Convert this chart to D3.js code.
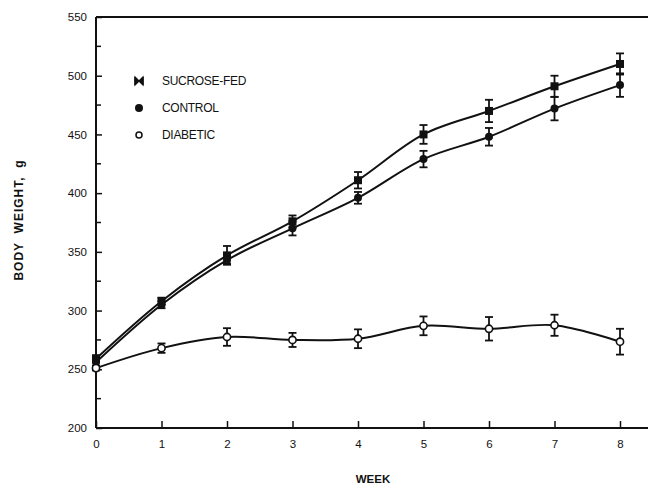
<!DOCTYPE html>
<html>
<head>
<meta charset="utf-8">
<script src="https://cdn.jsdelivr.net/npm/d3@7"></script>
<style>
  body { margin: 0; background: #fff; }
  svg { display: block; }
  text { font-family: "Liberation Sans", Arial, sans-serif; fill: #111; }
</style>
</head>
<body>
<div id="chart"></div>
<script>
// ---- DATA ----
const weeks = [0, 1, 2, 3, 4, 5, 6, 7, 8];
const sucroseMean = [259, 308, 347, 376, 411, 450, 470, 491, 510];
const sucroseErr  = [3, 3, 8, 5, 7, 8, 9.5, 9, 9];
const controlMean = [256, 305, 343, 370, 396, 429, 448, 472, 492];
const controlErr  = [3, 3, 3, 6, 5, 7, 7.5, 10, 10];
const diabeticMean = [251, 268, 277.5, 275, 276, 287, 284.5, 287.5, 273.5];
const diabeticErr  = [2, 4, 7.5, 6, 8, 8, 10, 9, 11];
const yTicks = [200, 250, 300, 350, 400, 450, 500, 550];
const yMinorTicks = [225, 275, 325, 375, 425, 475, 525];
const legendItems = ["SUCROSE-FED", "CONTROL", "DIABETIC"];

const width = 648, height = 485;

const svg = d3.select("#chart").append("svg")
    .attr("width", width)
    .attr("height", height);

const x = d3.scaleLinear().domain([0, 8]).range([96, 620]);
const y = d3.scaleLinear().domain([200, 550]).range([428, 17]);

// ---- AXES ----
const xAxis = d3.axisBottom(x).tickValues(weeks).tickSize(-7).tickPadding(12)
    .tickFormat(d3.format("d"));
const gx = svg.append("g").attr("transform", `translate(0,${y(200)})`).call(xAxis);
gx.select(".domain").remove();
gx.selectAll(".tick line").attr("stroke", "#111").attr("stroke-width", 1.5);
gx.selectAll(".tick text").attr("font-size", 11.5).style("font-family", "Liberation Sans, Arial, sans-serif");

const yAxis = d3.axisLeft(y).tickValues(yTicks).tickSize(-6).tickPadding(9);
const gy = svg.append("g").attr("transform", `translate(${x(0)},0)`).call(yAxis);
gy.select(".domain").remove();
gy.selectAll(".tick line").attr("stroke", "#111").attr("stroke-width", 1.5);
gy.selectAll(".tick text").attr("font-size", 11.5).style("font-family", "Liberation Sans, Arial, sans-serif");

svg.append("g").selectAll("line")
    .data(yMinorTicks)
    .enter()
    .append("line")
    .attr("x1", x(0)).attr("x2", x(0) + 5)
    .attr("y1", d => y(d)).attr("y2", d => y(d))
    .attr("stroke", "#111").attr("stroke-width", 1.5);

// frame lines: left, bottom (to edge), top (to edge)
svg.append("line").attr("x1", x(0)).attr("x2", x(0)).attr("y1", y(550)).attr("y2", y(200))
    .attr("stroke", "#111").attr("stroke-width", 2);
svg.append("line").attr("x1", x(0)).attr("x2", width).attr("y1", y(200)).attr("y2", y(200))
    .attr("stroke", "#111").attr("stroke-width", 2);
svg.append("line").attr("x1", x(0)).attr("x2", width).attr("y1", y(550)).attr("y2", y(550))
    .attr("stroke", "#111").attr("stroke-width", 2);

// ---- AXIS TITLES ----
svg.append("text")
    .attr("transform", `translate(23,${220}) rotate(-90)`)
    .attr("text-anchor", "middle")
    .attr("font-size", 12)
    .attr("font-weight", "bold")
    .attr("letter-spacing", 1)
    .style("white-space", "pre")
    .text("BODY  WEIGHT,  g");

svg.append("text")
    .attr("x", 373).attr("y", 483)
    .attr("text-anchor", "middle")
    .attr("font-size", 11.5)
    .attr("font-weight", "bold")
    .text("WEEK");

// ---- SERIES ----
const series = [
    { name: "sucrose", mean: sucroseMean, err: sucroseErr },
    { name: "control", mean: controlMean, err: controlErr },
    { name: "diabetic", mean: diabeticMean, err: diabeticErr }
];

const line = d3.line()
    .x((d, i) => x(weeks[i]))
    .y(d => y(d))
    .curve(d3.curveCatmullRom.alpha(0.5));

series.forEach(s => {
    const g = svg.append("g");

    g.append("path")
        .datum(s.mean)
        .attr("d", line)
        .attr("fill", "none")
        .attr("stroke", "#111")
        .attr("stroke-width", 2);

    // error bars
    const eb = g.selectAll(".eb")
        .data(s.mean.map((m, i) => ({ w: weeks[i], m: m, e: s.err[i] })))
        .enter().append("g");
    eb.append("line")
        .attr("x1", d => x(d.w)).attr("x2", d => x(d.w))
        .attr("y1", d => y(d.m - d.e)).attr("y2", d => y(d.m + d.e))
        .attr("stroke", "#111").attr("stroke-width", 1.8);
    [-1, 1].forEach(sgn => {
        eb.append("line")
            .attr("x1", d => x(d.w) - 4).attr("x2", d => x(d.w) + 4)
            .attr("y1", d => y(d.m + sgn * d.e)).attr("y2", d => y(d.m + sgn * d.e))
            .attr("stroke", "#111").attr("stroke-width", 1.8);
    });

    // markers
    if (s.name === "sucrose") {
        g.selectAll(".mk").data(s.mean).enter().append("rect")
            .attr("x", (d, i) => x(weeks[i]) - 4)
            .attr("y", d => y(d) - 4)
            .attr("width", 8).attr("height", 8)
            .attr("fill", "#111");
    } else if (s.name === "control") {
        g.selectAll(".mk").data(s.mean).enter().append("circle")
            .attr("cx", (d, i) => x(weeks[i]))
            .attr("cy", d => y(d))
            .attr("r", 4)
            .attr("fill", "#111");
    } else {
        g.selectAll(".mk").data(s.mean).enter().append("circle")
            .attr("cx", (d, i) => x(weeks[i]))
            .attr("cy", d => y(d))
            .attr("r", 3.6)
            .attr("fill", "#fff")
            .attr("stroke", "#111")
            .attr("stroke-width", 1.6);
    }
});

// ---- LEGEND ----
const legend = svg.append("g");
legendItems.forEach((name, i) => {
    const ly = 81 + i * 27;
    if (i === 0) {
        legend.append("path")
            .attr("d", `M135,${ly - 4} L143,${ly + 4} L143,${ly - 4} L135,${ly + 4} Z`)
            .attr("fill", "#111").attr("stroke", "#111").attr("stroke-width", 1.2);
        legend.append("line").attr("x1", 135).attr("x2", 135).attr("y1", ly - 4).attr("y2", ly + 4)
            .attr("stroke", "#111").attr("stroke-width", 1.5);
        legend.append("line").attr("x1", 143).attr("x2", 143).attr("y1", ly - 4).attr("y2", ly + 4)
            .attr("stroke", "#111").attr("stroke-width", 1.5);
    } else if (i === 1) {
        legend.append("circle").attr("cx", 139).attr("cy", ly).attr("r", 4).attr("fill", "#111");
    } else {
        legend.append("circle").attr("cx", 139).attr("cy", ly).attr("r", 3)
            .attr("fill", "#fff").attr("stroke", "#111").attr("stroke-width", 1.5);
    }
    legend.append("text")
        .attr("x", 162).attr("y", ly + 4)
        .attr("font-size", 12)
        .attr("letter-spacing", -0.3)
        .text(name);
});
</script>
</body>
</html>
